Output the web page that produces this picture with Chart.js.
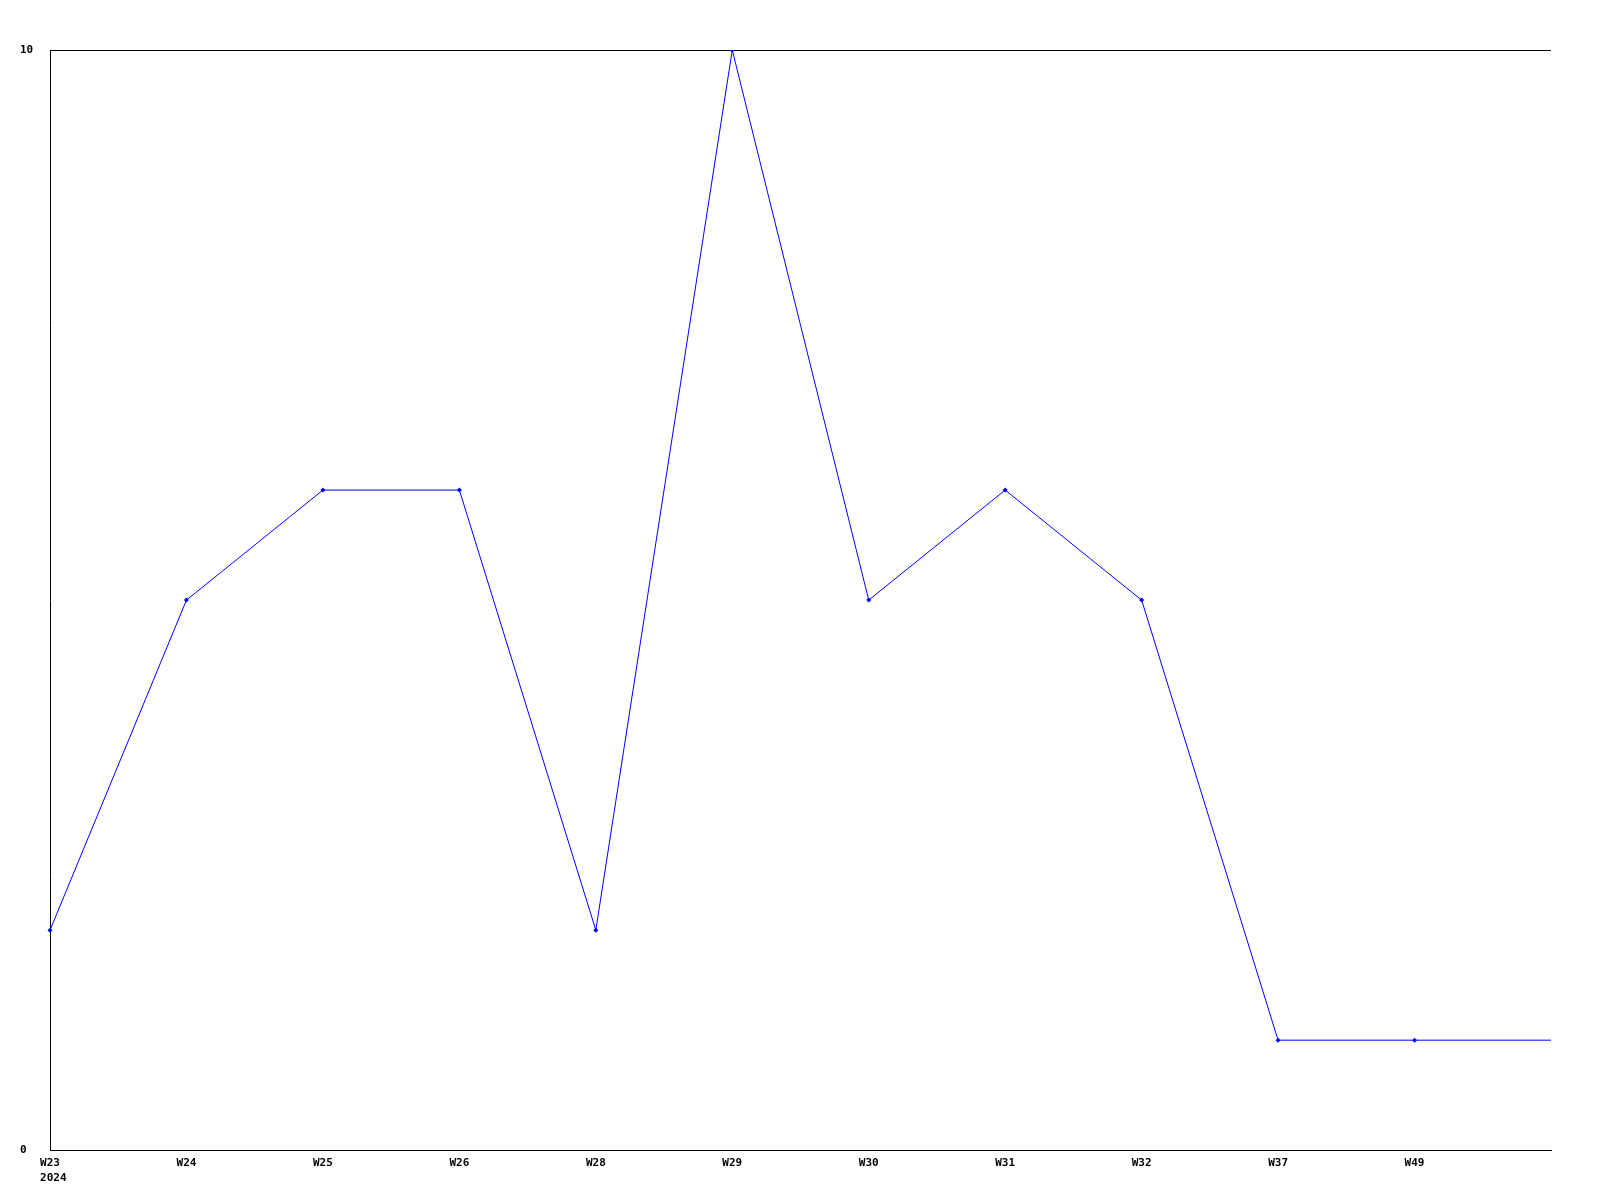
<!DOCTYPE html>
<html>
<head>
<meta charset="utf-8">
<script src="https://cdn.jsdelivr.net/npm/chart.js@4/dist/chart.umd.min.js"></script>
<style>
  html, body { margin: 0; padding: 0; background: #fff; }
  #wrap { width: 1600px; height: 1200px; }
</style>
</head>
<body>
<div id="wrap"><canvas id="grafico" width="1600" height="1200"></canvas></div>
<script>
// semanas (a última posição não tem rótulo, a linha só continua até a borda)
const semanas = [["W23", " 2024"], "W24", "W25", "W26", "W28", "W29", "W30", "W31", "W32", "W37", "W49", ""];
const valores = [2, 5, 6, 6, 2, 10, 5, 6, 5, 1, 1, 1];
const ticksY = [0, 10];

const fonte = { family: "'DejaVu Sans Mono', 'Liberation Mono', monospace", size: 11, weight: "bold", lineHeight: 1.4 };

const raios = valores.map((v, i) => i === valores.length - 1 ? 0 : 2.5);

new Chart(document.getElementById("grafico").getContext("2d"), {
    type: "line",
    data: {
        labels: semanas,
        datasets: [{
            data: valores,
            borderColor: "#0000ff",
            backgroundColor: "#0000ff",
            borderWidth: 1,
            pointStyle: "rectRot",
            pointRadius: raios,
            pointBorderWidth: 0,
            tension: 0,
            fill: false
        }]
    },
    options: {
        responsive: false,
        animation: false,
        layout: { padding: { left: 20, right: 49, top: 50, bottom: 9 } },
        plugins: {
            legend: { display: false },
            tooltip: { enabled: false }
        },
        scales: {
            x: {
                offset: false,
                grid: { display: false, drawTicks: false },
                border: { display: true, color: "#000", width: 1 },
                ticks: {
                    autoSkip: false,
                    maxRotation: 0,
                    minRotation: 0,
                    padding: 5,
                    color: "#000",
                    font: fonte
                }
            },
            y: {
                min: ticksY[0],
                max: ticksY[ticksY.length - 1],
                afterBuildTicks: axis => { axis.ticks = ticksY.map(v => ({ value: v })); },
                afterFit: axis => { axis.width = 30; },
                grid: { color: "#000", lineWidth: 1, drawTicks: false },
                border: { display: true, color: "#000", width: 1 },
                ticks: {
                    crossAlign: "far",
                    padding: 17,
                    color: "#000",
                    font: fonte
                }
            }
        }
    }
});
</script>
</body>
</html>
